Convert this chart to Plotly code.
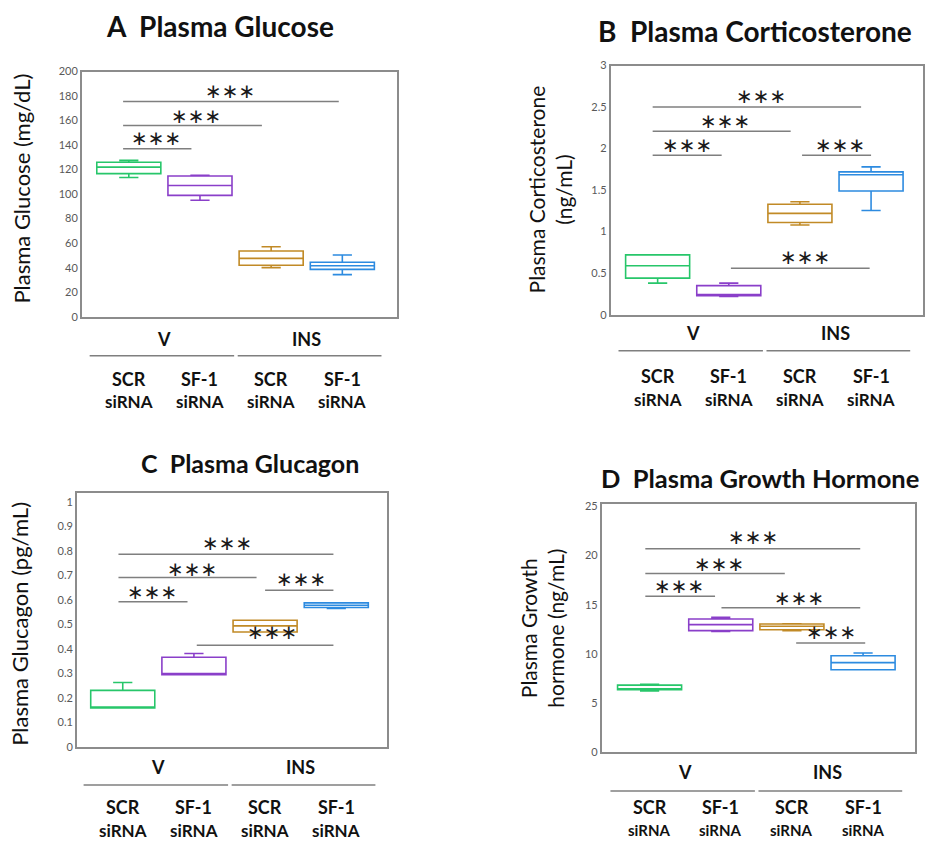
import plotly.graph_objects as go

W, H = 925, 843

positions = [1, 2, 3, 4]
group_labels = ["SCR", "SF-1", "SCR", "SF-1"]
colors = ["#27c66a", "#8a3fc9", "#c18a26", "#2d8be0"]

# Panel A: Plasma Glucose
a_lower = [113.5, 95.0, 40.0, 34.3]
a_q1 = [116.7, 99.0, 42.0, 38.6]
a_median = [122.0, 107.0, 47.6, 41.6]
a_q3 = [126.0, 114.8, 53.6, 44.4]
a_upper = [127.5, 115.4, 57.0, 50.3]

# Panel B: Plasma Corticosterone
b_lower = [0.38, 0.22, 1.08, 1.255]
b_q1 = [0.44, 0.23, 1.11, 1.49]
b_median = [0.59, 0.24, 1.22, 1.685]
b_q3 = [0.72, 0.35, 1.33, 1.72]
b_upper = [0.72, 0.38, 1.36, 1.78]

# Panel C: Plasma Glucagon
c_lower = [0.159, 0.295, 0.469, 0.565]
c_q1 = [0.159, 0.295, 0.469, 0.569]
c_median = [0.161, 0.298, 0.494, 0.578]
c_q3 = [0.231, 0.366, 0.517, 0.588]
c_upper = [0.263, 0.381, 0.517, 0.588]

# Panel D: Plasma Growth Hormone
d_lower = [6.2, 12.28, 12.35, 8.37]
d_q1 = [6.33, 12.35, 12.45, 8.37]
d_median = [6.4, 12.96, 12.8, 9.1]
d_q3 = [6.8, 13.54, 13.03, 9.8]
d_upper = [6.9, 13.7, 13.05, 10.07]

# significance brackets: (x0, x1, y) and star (x, y)
a_sig = [(0.92, 1.88, 137), (0.92, 2.87, 156), (0.92, 3.95, 175.5)]
a_star = [(1.38, 145.6), (1.95, 164), (2.42, 184)]
b_sig = [(0.93, 1.9, 1.92), (0.93, 2.87, 2.21), (0.93, 3.86, 2.5), (3.03, 4.0, 1.92), (2.03, 3.98, 0.56)]
b_star = [(1.41, 2.04), (1.95, 2.33), (2.45, 2.63), (3.57, 2.04), (3.07, 0.70)]
c_sig = [(0.94, 1.91, 0.592), (0.94, 2.88, 0.691), (0.94, 3.96, 0.786), (3.0, 3.96, 0.639), (2.04, 3.96, 0.415)]
c_star = [(1.41, 0.633), (1.97, 0.728), (2.46, 0.834), (3.5, 0.684), (3.1, 0.467)]
d_sig = [(0.94, 1.92, 15.85), (0.94, 2.9, 18.16), (0.94, 3.96, 20.68), (2.01, 3.96, 14.69), (3.06, 4.03, 11.09)]
d_star = [(1.41, 16.87), (1.97, 19.15), (2.46, 21.87), (3.1, 15.68), (3.55, 12.18)]


def px_x(p):
    return p / W


def px_y(p):
    return 1 - ((p - 8.5) / 0.984) / H


panels = [
    dict(name="A  Plasma Glucose", tsize=28, ytitle="Plasma Glucose (mg/dL)", ysize=22,
         lower=a_lower, q1=a_q1, median=a_median, q3=a_q3, upper=a_upper,
         sig=a_sig, star=a_star,
         box=(82, 398, 73, 318), xr=[0.34, 4.77], yr=[0, 200], dtick=20,
         title_xy=(220, 27), ytitle_xy=(22, 190),
         lab=(340, 357, 380, 403), sisize=17),
    dict(name="B  Plasma Corticosterone", tsize=28, ytitle="Plasma Corticosterone<br>(ng/mL)", ysize=21,
         lower=b_lower, q1=b_q1, median=b_median, q3=b_q3, upper=b_upper,
         sig=b_sig, star=b_star,
         box=(612, 925, 67, 316), xr=[0.34, 4.73], yr=[0, 3], dtick=0.5,
         title_xy=(757, 32), ytitle_xy=(551, 191),
         lab=(334, 352, 377, 401), sisize=17),
    dict(name="C  Plasma Glucagon", tsize=25, ytitle="Plasma Glucagon (pg/mL)", ysize=22,
         lower=c_lower, q1=c_q1, median=c_median, q3=c_q3, upper=c_upper,
         sig=c_sig, star=c_star,
         box=(77, 388, 494, 748), xr=[0.355, 4.715], yr=[0, 1.037], dtick=0.1,
         title_xy=(251, 464), ytitle_xy=(20, 625),
         lab=(768, 786, 808, 832), sisize=17),
    dict(name="D  Plasma Growth Hormone", tsize=25.5, ytitle="Plasma Growth<br>hormone (ng/mL)", ysize=21,
         lower=d_lower, q1=d_q1, median=d_median, q3=d_q3, upper=d_upper,
         sig=d_sig, star=d_star,
         box=(603, 917, 505, 753), xr=[0.327, 4.73], yr=[0, 25.27], dtick=5,
         title_xy=(762, 479), ytitle_xy=(543, 629),
         lab=(773, 792, 808, 831), sisize=15),
]

fig = go.Figure()
annotations = []
shapes = []
FONT = "Lato"

for i, p in enumerate(panels):
    n = "" if i == 0 else str(i + 1)
    xa, ya = "x" + n, "y" + n
    for j in range(4):
        fig.add_trace(go.Box(
            x=[positions[j]], q1=[p["q1"][j]], median=[p["median"][j]], q3=[p["q3"][j]],
            lowerfence=[p["lower"][j]], upperfence=[p["upper"][j]],
            width=0.9, whiskerwidth=0.3, boxpoints=False,
            line=dict(color=colors[j], width=1.6), fillcolor="rgba(255,255,255,0)",
            xaxis=xa, yaxis=ya, showlegend=False, hoverinfo="skip"))
    x0, x1, y0, y1 = p["box"]
    fig.layout["xaxis" + n] = dict(domain=[px_x(x0), px_x(x1)], range=p["xr"], showticklabels=False,
                                    showgrid=False, zeroline=False, showline=True, mirror=True,
                                    linecolor="#8c8c8c", linewidth=1.5, ticks="", anchor=ya)
    fig.layout["yaxis" + n] = dict(domain=[px_y(y1), px_y(y0)], range=p["yr"], dtick=p["dtick"], tick0=0,
                                    showgrid=False, zeroline=False, showline=True, mirror=True,
                                    linecolor="#8c8c8c", linewidth=1.5, ticks="", ticklen=0,
                                    tickfont=dict(family=FONT, size=11, color="#595959"), anchor=xa)
    for (sx0, sx1, sy) in p["sig"]:
        shapes.append(dict(type="line", xref=xa, yref=ya, x0=sx0, x1=sx1, y0=sy, y1=sy,
                           line=dict(color="#7f7f7f", width=1.5)))
    for (tx, ty) in p["star"]:
        annotations.append(dict(x=tx, y=ty, xref=xa, yref=ya, text="∗∗∗", showarrow=False,
                                font=dict(family="DejaVu Sans", size=20, color="#1a1a1a"),
                                yanchor="middle", xanchor="center"))
    # title
    annotations.append(dict(x=px_x(p["title_xy"][0]), y=px_y(p["title_xy"][1]), xref="paper", yref="paper",
                            text="<b>" + p["name"] + "</b>", showarrow=False,
                            font=dict(family=FONT, size=p["tsize"], color="#111111"),
                            xanchor="center", yanchor="middle"))
    # y title
    annotations.append(dict(x=px_x(p["ytitle_xy"][0]), y=px_y(p["ytitle_xy"][1]), xref="paper", yref="paper",
                            text=p["ytitle"], showarrow=False, textangle=-90,
                            font=dict(family=FONT, size=p["ysize"], color="#111111"),
                            xanchor="center", yanchor="middle"))
    ly_v, ly_line, ly_scr, ly_si = p["lab"]
    for gx, gt in [(1.5, "V"), (3.5, "INS")]:
        annotations.append(dict(x=gx, y=px_y(ly_v), xref=xa, yref="paper", text="<b>" + gt + "</b>",
                                showarrow=False, font=dict(family=FONT, size=18, color="#111111"),
                                xanchor="center", yanchor="middle"))
    for gx0, gx1 in [(0.45, 2.48), (2.53, 4.55)]:
        shapes.append(dict(type="line", xref=xa, yref="paper", x0=gx0, x1=gx1,
                           y0=px_y(ly_line), y1=px_y(ly_line), line=dict(color="#7f7f7f", width=1.5)))
    for j in range(4):
        annotations.append(dict(x=positions[j], y=px_y(ly_scr), xref=xa, yref="paper",
                                text="<b>" + group_labels[j] + "</b>", showarrow=False,
                                font=dict(family=FONT, size=18, color="#111111"),
                                xanchor="center", yanchor="middle"))
        annotations.append(dict(x=positions[j], y=px_y(ly_si), xref=xa, yref="paper",
                                text="<b>siRNA</b>", showarrow=False,
                                font=dict(family=FONT, size=p["sisize"], color="#111111"),
                                xanchor="center", yanchor="middle"))

fig.update_layout(width=W, height=H, margin=dict(l=0, r=0, t=0, b=0),
                  paper_bgcolor="white", plot_bgcolor="white",
                  annotations=annotations, shapes=shapes, showlegend=False)

fig.write_html("out.html", config={"displayModeBar": False},
               post_script="document.body.style.margin='0';document.body.style.padding='0';"
                           "document.documentElement.style.overflow='hidden';")
